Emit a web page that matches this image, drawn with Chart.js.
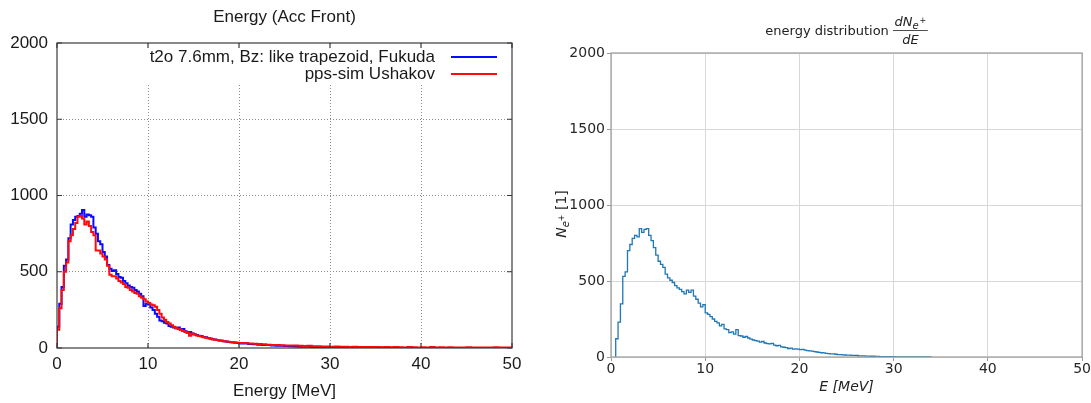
<!DOCTYPE html>
<html>
<head>
<meta charset="utf-8">
<script src="https://cdn.jsdelivr.net/npm/chart.js@4.4.1/dist/chart.umd.min.js"></script>
<style>
  html, body { margin: 0; padding: 0; background: #fff; }
  #wrap { position: relative; width: 1091px; height: 403px; }
  canvas { position: absolute; top: 0; }
  #accChart { left: 0; }
  #distChart { left: 546px; }
</style>
</head>
<body>
<div id="wrap">
  <canvas id="accChart" width="545" height="403"></canvas>
  <canvas id="distChart" width="545" height="403"></canvas>
</div>
<script>
// ---- data ----
const xTicks = [0, 10, 20, 30, 40, 50];
const yTicks = [0, 500, 1000, 1500, 2000];

const seriesNames = ['t2o 7.6mm, Bz: like trapezoid, Fukuda', 'pps-sim Ushakov'];

// left plot: 0.25 MeV bins up to 20 MeV, then 0.5 MeV bins up to 50 MeV
const accHeadStart = 0;
const accHeadW = 0.25;
const accTailStart = 20;
const accTailW = 0.5;

const fukudaHead = [
  60, 140, 290, 400, 540, 580, 720, 810,
  840, 860, 865, 880, 905, 860, 875, 870,
  860, 790, 750, 700, 680, 630, 600, 545,
  520, 505, 510, 485, 465, 460, 440, 425,
  410, 400, 395, 380, 370, 355, 340, 275,
  290, 285, 265, 250, 225, 205, 180, 175,
  165, 160, 145, 140, 135, 130, 135, 120,
  125, 110, 100, 105, 95, 90, 85, 80,
  78, 72, 70, 65, 62, 58, 55, 52,
  50, 48, 44, 42, 40, 38, 36, 34
];
const fukudaTail = [
  32, 30, 29, 26, 24, 22, 20, 19, 17, 15,
  14, 13, 12, 10, 9, 9, 8, 7, 6, 5,
  5, 4, 4, 3, 3, 2, 2, 2, 1, 1,
  1, 1, 1, 1, 0, 1, 0, 0, 1, 0,
  0, 0, 0, 0, 0, 0, 0, 0, 0, 0,
  0, 0, 0, 0, 0, 0, 0, 0, 0, 0
];

const ushakovHead = [
  40, 120, 260, 380, 500, 560, 700, 740,
  780, 820, 860, 865, 850, 810, 830, 800,
  760, 740, 640, 640, 620, 600, 580, 540,
  480, 470, 470, 455, 440, 430, 420, 400,
  395, 380, 370, 360, 355, 340, 330, 320,
  305, 295, 285, 280, 270, 250, 225, 200,
  185, 170, 160, 150, 140, 130, 125, 118,
  112, 105, 100, 80, 95, 88, 82, 78,
  75, 70, 68, 64, 60, 58, 54, 52,
  50, 47, 45, 43, 41, 40, 38, 36
];
const ushakovTail = [
  35, 33, 32, 30, 28, 27, 25, 22, 20, 19,
  18, 17, 16, 16, 14, 13, 14, 12, 11, 10,
  10, 9, 10, 8, 8, 7, 8, 7, 6, 7,
  6, 6, 5, 7, 5, 6, 5, 4, 6, 5,
  4, 5, 4, 6, 4, 5, 3, 5, 4, 4,
  3, 5, 3, 4, 3, 4, 3, 5, 3, 4
];

// right plot: 0.25 MeV bins from 0.5 MeV
const distStart = 0.5;
const distBinW = 0.25;
const distCounts = [
  15, 120, 230, 350, 530, 560,
  700, 740, 780, 800,
  790, 845, 820, 840,
  845, 800, 765, 720,
  670, 630, 610, 590,
  545, 520, 505, 490,
  470, 455, 445, 430,
  415, 440, 425, 440,
  400, 380, 355, 330,
  345, 290, 280, 265,
  250, 235, 225, 205,
  215, 185, 180, 160,
  165, 150, 180, 140,
  138, 130, 135, 125,
  118, 112, 108, 104,
  98, 102, 92, 88,
  86, 90, 78, 74,
  76, 66, 64, 62,
  56, 58, 52, 54,
  52, 48, 50, 45,
  42, 40, 38, 36,
  33, 30, 28, 27,
  24, 22, 20, 20,
  18, 16, 15, 14,
  13, 12, 12, 11,
  11, 10, 8, 8,
  7, 6, 6, 5,
  5, 4, 4, 3,
  3, 3, 2, 2,
  2, 2, 1, 1,
  1, 1, 1, 1,
  0, 1, 0, 1,
  0, 0, 0, 0
];

// turn bin lists into points for a stepped line
function histPoints(parts, dropEnd) {
  const pts = [{ x: parts[0][0], y: 0 }];
  let end = 0;
  let lastVal = 0;
  parts.forEach(([start, w, vals]) => {
    vals.forEach((v, i) => pts.push({ x: start + i * w, y: v }));
    end = start + vals.length * w;
    lastVal = vals[vals.length - 1];
  });
  pts.push({ x: end, y: lastVal });
  if (dropEnd) pts.push({ x: end, y: 0 });
  return pts;
}

const setTicks = list => scale => { scale.ticks = list.map(v => ({ value: v })); };
const plainLabel = v => String(v);

// ---- left chart (gnuplot look) ----
const gnuFont = '"Liberation Sans", Arial, sans-serif';
const accColors = ['#0a0aff', '#ff0a0a'];
const legendBottom = 84;

const gnuFrame = {
  id: 'gnuFrame',
  beforeDatasetsDraw(chart) {
    const { ctx, chartArea: a } = chart;
    ctx.save();
    ctx.fillStyle = '#fff';
    ctx.fillRect(a.left + 1, a.top + 1, a.right - a.left - 2, legendBottom - a.top);
    ctx.restore();
  },
  afterDatasetsDraw(chart) {
    const { ctx, chartArea: a, scales } = chart;
    ctx.save();
    ctx.strokeStyle = '#3a3a3a';
    ctx.lineWidth = 1.2;
    ctx.strokeRect(a.left, a.top, a.right - a.left, a.bottom - a.top);
    ctx.beginPath();
    xTicks.forEach(v => {
      const x = scales.x.getPixelForValue(v);
      ctx.moveTo(x, a.bottom); ctx.lineTo(x, a.bottom - 5);
      ctx.moveTo(x, a.top); ctx.lineTo(x, a.top + 5);
    });
    yTicks.forEach(v => {
      const y = scales.y.getPixelForValue(v);
      ctx.moveTo(a.left, y); ctx.lineTo(a.left + 5, y);
      ctx.moveTo(a.right, y); ctx.lineTo(a.right - 5, y);
    });
    ctx.stroke();

    // legend
    ctx.font = '17px ' + gnuFont;
    ctx.fillStyle = '#1a1a1a';
    ctx.textAlign = 'right';
    ctx.textBaseline = 'middle';
    seriesNames.forEach((name, i) => {
      const y = 57 + i * 17;
      ctx.fillText(name, 435, y);
      ctx.strokeStyle = accColors[i];
      ctx.lineWidth = 2;
      ctx.beginPath();
      ctx.moveTo(451, y); ctx.lineTo(497, y);
      ctx.stroke();
    });

    // titles
    const cx = (a.left + a.right) / 2;
    ctx.textAlign = 'center';
    ctx.fillText('Energy (Acc Front)', cx, 17);
    ctx.fillText('Energy [MeV]', cx, 391);
    ctx.restore();
  }
};

new Chart(document.getElementById('accChart'), {
  type: 'line',
  data: {
    datasets: [
      {
        label: seriesNames[0],
        data: histPoints([[accHeadStart, accHeadW, fukudaHead], [accTailStart, accTailW, fukudaTail]], false),
        borderColor: accColors[0],
        borderWidth: 2,
        stepped: 'after',
        pointRadius: 0,
        order: 1
      },
      {
        label: seriesNames[1],
        data: histPoints([[accHeadStart, accHeadW, ushakovHead], [accTailStart, accTailW, ushakovTail]], false),
        borderColor: accColors[1],
        borderWidth: 2,
        stepped: 'after',
        pointRadius: 0,
        order: 0
      }
    ]
  },
  options: {
    responsive: false,
    animation: false,
    layout: { padding: { top: 43, right: 33, left: 0, bottom: 0 } },
    plugins: { legend: { display: false }, tooltip: { enabled: false } },
    scales: {
      x: {
        type: 'linear',
        min: 0,
        max: 50,
        afterBuildTicks: setTicks(xTicks),
        afterFit: s => { s.height = 55; },
        ticks: { font: { family: gnuFont, size: 17 }, color: '#1a1a1a', padding: 6, maxRotation: 0, callback: plainLabel },
        grid: { drawTicks: false, color: c => (c.tick && (c.tick.value === 0 || c.tick.value === 50)) ? 'rgba(0,0,0,0)' : '#8c8c8c', lineWidth: 1 },
        border: { display: false, dash: [1, 2] }
      },
      y: {
        min: 0,
        max: 2000,
        afterBuildTicks: setTicks(yTicks),
        afterFit: s => { s.width = 57; },
        ticks: { font: { family: gnuFont, size: 17 }, color: '#1a1a1a', padding: 9, callback: plainLabel },
        grid: { drawTicks: false, color: c => (c.tick && (c.tick.value === 0 || c.tick.value === 2000)) ? 'rgba(0,0,0,0)' : '#8c8c8c', lineWidth: 1 },
        border: { display: false, dash: [1, 2] }
      }
    }
  },
  plugins: [gnuFrame]
});

// ---- right chart (matplotlib look) ----
const mplFont = '"DejaVu Sans", sans-serif';
const mplBlue = '#1f77b4';
const spineColor = '#9a9a9a';

const mplFrame = {
  id: 'mplFrame',
  afterDraw(chart) {
    const { ctx, chartArea: a } = chart;
    ctx.save();
    ctx.strokeStyle = spineColor;
    ctx.lineWidth = 1.2;
    ctx.strokeRect(a.left, a.top, a.right - a.left, a.bottom - a.top);

    ctx.fillStyle = '#222';
    ctx.textBaseline = 'alphabetic';
    ctx.textAlign = 'left';

    // title with fraction dN_{e+}/dE
    const main = 'energy distribution ';
    ctx.font = '13px ' + mplFont;
    const wMain = ctx.measureText(main).width;
    ctx.font = 'italic 13px ' + mplFont;
    const wdN = ctx.measureText('dN').width;
    const wdE = ctx.measureText('dE').width;
    ctx.font = 'italic 10px ' + mplFont;
    const wSub = ctx.measureText('e').width;
    ctx.font = '8px ' + mplFont;
    const wSup = ctx.measureText('+').width;
    const wNum = wdN + wSub + wSup + 1;
    const wFrac = Math.max(wNum, wdE) + 3;
    let x = (a.left + a.right) / 2 - (wMain + wFrac) / 2;
    ctx.font = '13px ' + mplFont;
    ctx.fillText(main, x, 35);
    x += wMain;
    const nx = x + (wFrac - wNum) / 2;
    ctx.font = 'italic 13px ' + mplFont;
    ctx.fillText('dN', nx, 26);
    ctx.font = 'italic 10px ' + mplFont;
    ctx.fillText('e', nx + wdN, 29);
    ctx.font = '8px ' + mplFont;
    ctx.fillText('+', nx + wdN + wSub + 1, 23);
    ctx.font = 'italic 13px ' + mplFont;
    ctx.fillText('dE', x + (wFrac - wdE) / 2, 44);
    ctx.strokeStyle = '#222';
    ctx.lineWidth = 0.8;
    ctx.beginPath();
    ctx.moveTo(x, 30.5); ctx.lineTo(x + wFrac, 30.5);
    ctx.stroke();

    // x title
    ctx.font = 'italic 14px ' + mplFont;
    ctx.textAlign = 'center';
    ctx.fillText('E [MeV]', (a.left + a.right) / 2, 391);

    // y title, rotated
    ctx.translate(15, 214);
    ctx.rotate(-Math.PI / 2);
    ctx.textAlign = 'left';
    ctx.font = 'italic 14px ' + mplFont;
    const wN = ctx.measureText('N').width;
    ctx.font = 'italic 10px ' + mplFont;
    const we = ctx.measureText('e').width;
    ctx.font = '8px ' + mplFont;
    const wp = ctx.measureText('+').width;
    ctx.font = '14px ' + mplFont;
    const wRest = ctx.measureText(' [1]').width;
    let yx = -(wN + we + wp + wRest) / 2;
    ctx.font = 'italic 14px ' + mplFont;
    ctx.fillText('N', yx, 5);
    yx += wN;
    ctx.font = 'italic 10px ' + mplFont;
    ctx.fillText('e', yx, 8);
    yx += we;
    ctx.font = '8px ' + mplFont;
    ctx.fillText('+', yx, 3);
    yx += wp;
    ctx.font = '14px ' + mplFont;
    ctx.fillText(' [1]', yx, 5);
    ctx.restore();
  }
};

new Chart(document.getElementById('distChart'), {
  type: 'line',
  data: {
    datasets: [{
      label: 'dN/dE',
      data: histPoints([[distStart, distBinW, distCounts]], true),
      borderColor: mplBlue,
      borderWidth: 1.3,
      stepped: 'after',
      pointRadius: 0
    }]
  },
  options: {
    responsive: false,
    animation: false,
    layout: { padding: { top: 53, right: 8, left: 0, bottom: 0 } },
    plugins: { legend: { display: false }, tooltip: { enabled: false } },
    scales: {
      x: {
        type: 'linear',
        min: 0,
        max: 50,
        afterBuildTicks: setTicks(xTicks),
        afterFit: s => { s.height = 46; },
        ticks: { font: { family: mplFont, size: 14 }, color: '#262626', padding: 0, maxRotation: 0, callback: plainLabel },
        grid: { color: '#d8d8d8', lineWidth: 1, tickLength: 4, tickColor: spineColor },
        border: { display: false }
      },
      y: {
        min: 0,
        max: 2000,
        afterBuildTicks: setTicks(yTicks),
        afterFit: s => { s.width = 65; },
        ticks: { font: { family: mplFont, size: 14 }, color: '#262626', padding: 2, callback: plainLabel },
        grid: { color: '#d8d8d8', lineWidth: 1, tickLength: 4, tickColor: spineColor },
        border: { display: false }
      }
    }
  },
  plugins: [mplFrame]
});
</script>
</body>
</html>
